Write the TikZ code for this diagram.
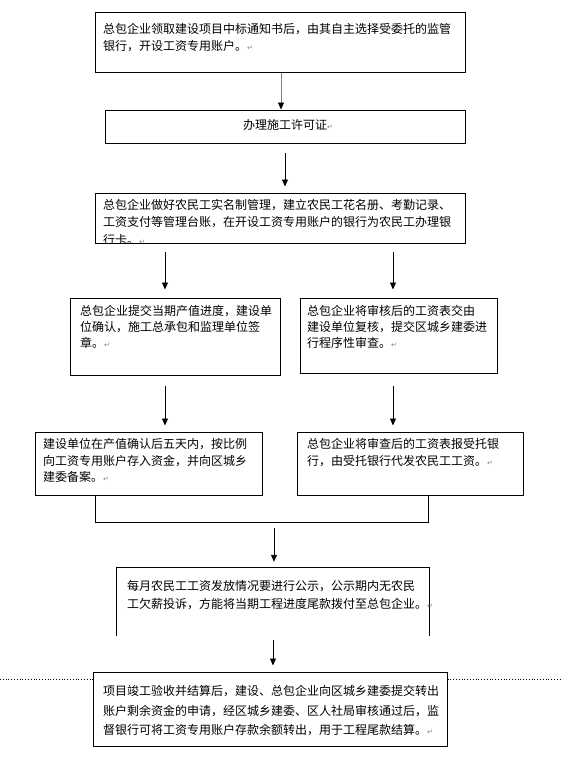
\documentclass[tikz,border=0pt]{standalone}
\usepackage{fontspec}
\setmainfont{Noto Sans CJK SC}
\newfontfamily\symfont{DejaVu Sans}
\usetikzlibrary{arrows.meta}
\newcommand{\pmark}{{\symfont\fontsize{7}{7}\selectfont\textcolor{gray}{↵}}}
\begin{document}
\begin{tikzpicture}[x=1pt,y=-1pt,
  boxn/.style={draw=black,line width=1pt,fill=white,inner sep=0pt},
  txt/.style={anchor=north west,inner sep=0pt,align=left,font=\fontsize{12}{#1}\selectfont},
  txt/.default=17,
  arr/.style={line width=0.9pt,-{Triangle[width=6pt,length=7pt,color=black]}}]
\useasboundingbox (0,0) rectangle (561,761);
\fill[white] (0,0) rectangle (561,761);
% boxes
\node[boxn,minimum width=370pt,minimum height=60pt] (b1) at (280,42) {};
\node[boxn,minimum width=360pt,minimum height=33pt] (b2) at (285,126.5) {};
\node[boxn,minimum width=370pt,minimum height=50pt] (b3) at (280,218) {};
\node[boxn,minimum width=210pt,minimum height=77pt] (b4) at (175,336.5) {};
\node[boxn,minimum width=197pt,minimum height=75pt] (b5) at (398.5,335.5) {};
\node[boxn,minimum width=227pt,minimum height=63pt] (b6) at (148.5,463.5) {};
\node[boxn,minimum width=226pt,minimum height=63pt] (b7) at (410,463.5) {};
\node[inner sep=0pt,minimum width=312pt,minimum height=68pt] (b8) at (273,602) {};
% texts
\node[txt] (t1) at (103,23) {总包企业领取建设项目中标通知书后，由其自主选择受委托的监管\\银行，开设工资专用账户。\pmark};
\node[inner sep=0pt,font=\fontsize{12}{14}\selectfont] (t2) at (288,125) {办理施工许可证\pmark};
\begin{scope}
\clip (b3.north west) rectangle (b3.south east);
\node[txt=17.5] (t3) at (103,199) {总包企业做好农民工实名制管理，建立农民工花名册、考勤记录、\\工资支付等管理台账，在开设工资专用账户的银行为农民工办理银\\行卡。\pmark};
\end{scope}
\node[txt=16] (t4) at (80,305) {总包企业提交当期产值进度，建设单\\位确认，施工总承包和监理单位签\\章。\pmark};
\node[txt=16] (t5) at (307,305) {总包企业将审核后的工资表交由\\建设单位复核，提交区城乡建委进\\行程序性审查。\pmark};
\node[txt=16.5] (t6) at (43,438.5) {建设单位在产值确认后五天内，按比例\\向工资专用账户存入资金，并向区城乡\\建委备案。\pmark};
\node[txt=16.5] (t7) at (307,438.5) {总包企业将审查后的工资表报受托银\\行，由受托银行代发农民工工资。\pmark};
\draw[line width=1pt] (b8.south west) -- (b8.north west) -- (b8.north east) -- (b8.south east);
\node[txt=18] (t8) at (127,580.5) {每月农民工工资发放情况要进行公示，公示期内无农民\\工欠薪投诉，方能将当期工程进度尾款拨付至总包企业。\pmark};
% page break line
\coordinate (dl) at (0,679);
\coordinate (dr) at (561,679);
\node[boxn,minimum width=354pt,minimum height=74pt] (b9) at (270,709) {};
\draw[dotted,line width=0.8pt] (dl) -- (dl -| b9.west);
\draw[dotted,line width=0.8pt] (dl -| b9.east) -- (dr);
\node[txt=19.5] (t9) at (103,685.5) {项目竣工验收并结算后，建设、总包企业向区城乡建委提交转出\\账户剩余资金的申请，经区城乡建委、区人社局审核通过后，监\\督银行可将工资专用账户存款余额转出，用于工程尾款结算。\pmark};
% connectors
\coordinate (x281) at (281,0);
\coordinate (x285) at (285,0);
\coordinate (x165) at (165,0);
\coordinate (x393) at (393,0);
\coordinate (x274) at (274,0);
\draw[arr,draw=gray] (b1.south -| x281) -- (b2.north -| x281);
\draw[arr,shorten <=9pt,shorten >=6pt] (b2.south -| x285) -- (b3.north -| x285);
\draw[arr,shorten <=8pt,shorten >=8pt] (b3.south -| x165) -- (b4.north -| x165);
\draw[arr,shorten <=8pt,shorten >=8pt] (b3.south -| x393) -- (b5.north -| x393);
\draw[arr,shorten <=10pt,shorten >=6pt] (b4.south -| x165) -- (b6.north -| x165);
\draw[arr,shorten <=12pt,shorten >=6pt] (b5.south -| x393) -- (b7.north -| x393);
\coordinate (j1) at (95,522);
\coordinate (j2) at (428,522);
\draw[line width=1pt] (j1 |- b6.south) -- (j1) -- (j2) -- (j2 |- b7.south);
\coordinate (a8) at (274,528);
\draw[arr,shorten >=6pt] (a8) -- (b8.north -| x274);
\coordinate (a9) at (273,640);
\draw[arr,shorten >=6pt] (a9) -- (a9 |- b9.north);
\end{tikzpicture}
\end{document}
